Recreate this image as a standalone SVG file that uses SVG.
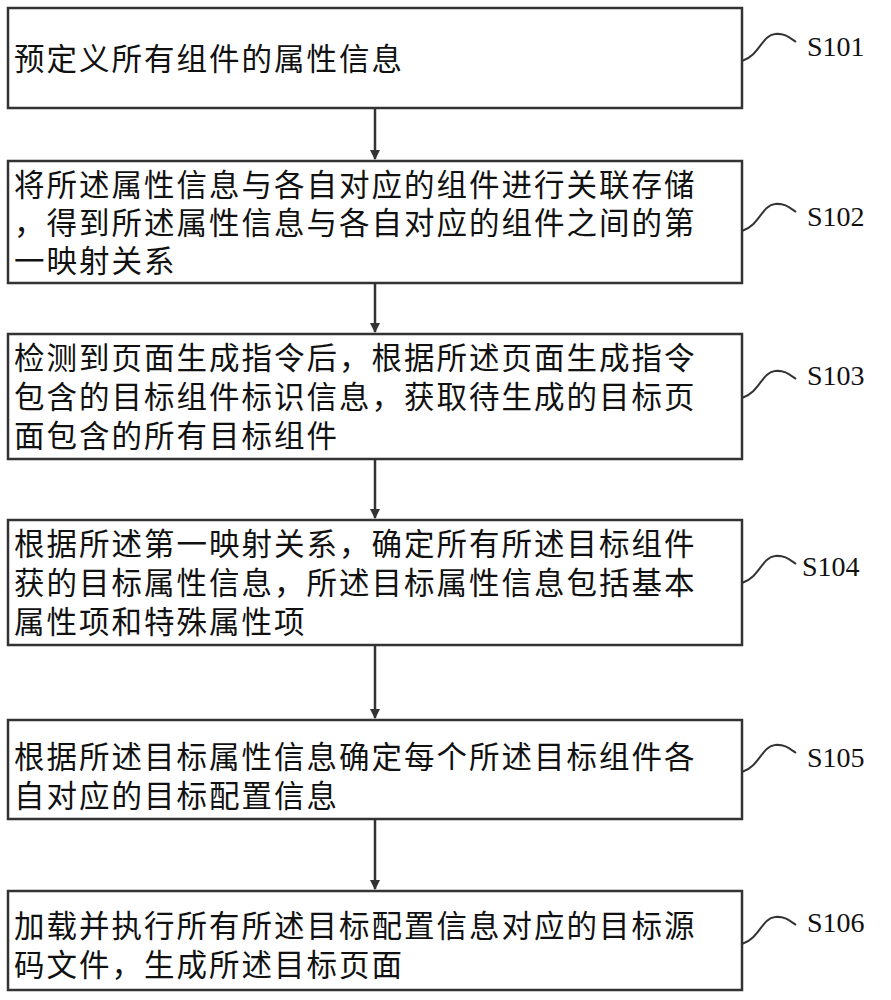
<svg xmlns="http://www.w3.org/2000/svg" width="891" height="1000" viewBox="0 0 891 1000">
<style>
.b{fill:#fff;stroke:#333;stroke-width:2.5}
.t{font-family:"Noto Sans CJK SC","Noto Sans",sans-serif;font-size:30.5px;letter-spacing:2px;fill:#111}
.l{font-family:"Liberation Serif",serif;font-size:28px;fill:#111}
.c{fill:none;stroke:#333;stroke-width:2.5}
.s{fill:none;stroke:#333;stroke-width:2}
</style>
<defs><marker id="a" markerWidth="10" markerHeight="10" refX="9" refY="5" orient="auto" markerUnits="userSpaceOnUse"><path d="M0,0L10,5L0,10z" fill="#333"/></marker></defs>
<g id="n1"><rect class="b" x="8" y="8" width="734" height="100"/><text class="t" x="14" y="70">预定义所有组件的属性信息</text><path class="s" d="M742,61C760,55 762,35 775,34C785,33 790,38 796,42"/><text class="l" x="807" y="56">S101</text></g>
<g id="n2"><rect class="b" x="8" y="161" width="734" height="122"/><text class="t" x="14" y="196">将所述属性信息与各自对应的组件进行关联存储</text><text class="t" x="14" y="234">，得到所述属性信息与各自对应的组件之间的第</text><text class="t" x="14" y="272">一映射关系</text><path class="s" d="M742,231C760,225 762,205 775,204C785,203 790,208 796,212"/><text class="l" x="807" y="226">S102</text></g>
<g id="n3"><rect class="b" x="8" y="334" width="734" height="125"/><text class="t" x="14" y="369">检测到页面生成指令后，根据所述页面生成指令</text><text class="t" x="14" y="408">包含的目标组件标识信息，获取待生成的目标页</text><text class="t" x="14" y="447">面包含的所有目标组件</text><path class="s" d="M742,398C760,392 762,372 775,371C785,370 790,375 796,379"/><text class="l" x="807" y="385">S103</text></g>
<g id="n4"><rect class="b" x="8" y="520" width="734" height="125"/><text class="t" x="14" y="555">根据所述第一映射关系，确定所有所述目标组件</text><text class="t" x="14" y="594">获的目标属性信息，所述目标属性信息包括基本</text><text class="t" x="14" y="633">属性项和特殊属性项</text><path class="s" d="M742,583C760,577 762,557 775,556C785,555 790,560 796,564"/><text class="l" x="802" y="576">S104</text></g>
<g id="n5"><rect class="b" x="8" y="720" width="734" height="99"/><text class="t" x="14" y="768">根据所述目标属性信息确定每个所述目标组件各</text><text class="t" x="14" y="807">自对应的目标配置信息</text><path class="s" d="M742,772C760,766 762,746 775,745C785,744 790,749 796,753"/><text class="l" x="807" y="767">S105</text></g>
<g id="n6"><rect class="b" x="8" y="891" width="734" height="99"/><text class="t" x="14" y="937">加载并执行所有所述目标配置信息对应的目标源</text><text class="t" x="14" y="976">码文件，生成所述目标页面</text><path class="s" d="M742,944C760,938 762,918 775,917C785,916 790,921 796,925"/><text class="l" x="807" y="932">S106</text></g>
<g id="connectors">
<path class="c" d="M375,108V159" marker-end="url(#a)"/>
<path class="c" d="M375,283V332" marker-end="url(#a)"/>
<path class="c" d="M375,459V518" marker-end="url(#a)"/>
<path class="c" d="M375,645V718" marker-end="url(#a)"/>
<path class="c" d="M375,819V889" marker-end="url(#a)"/>
</g>
</svg>
